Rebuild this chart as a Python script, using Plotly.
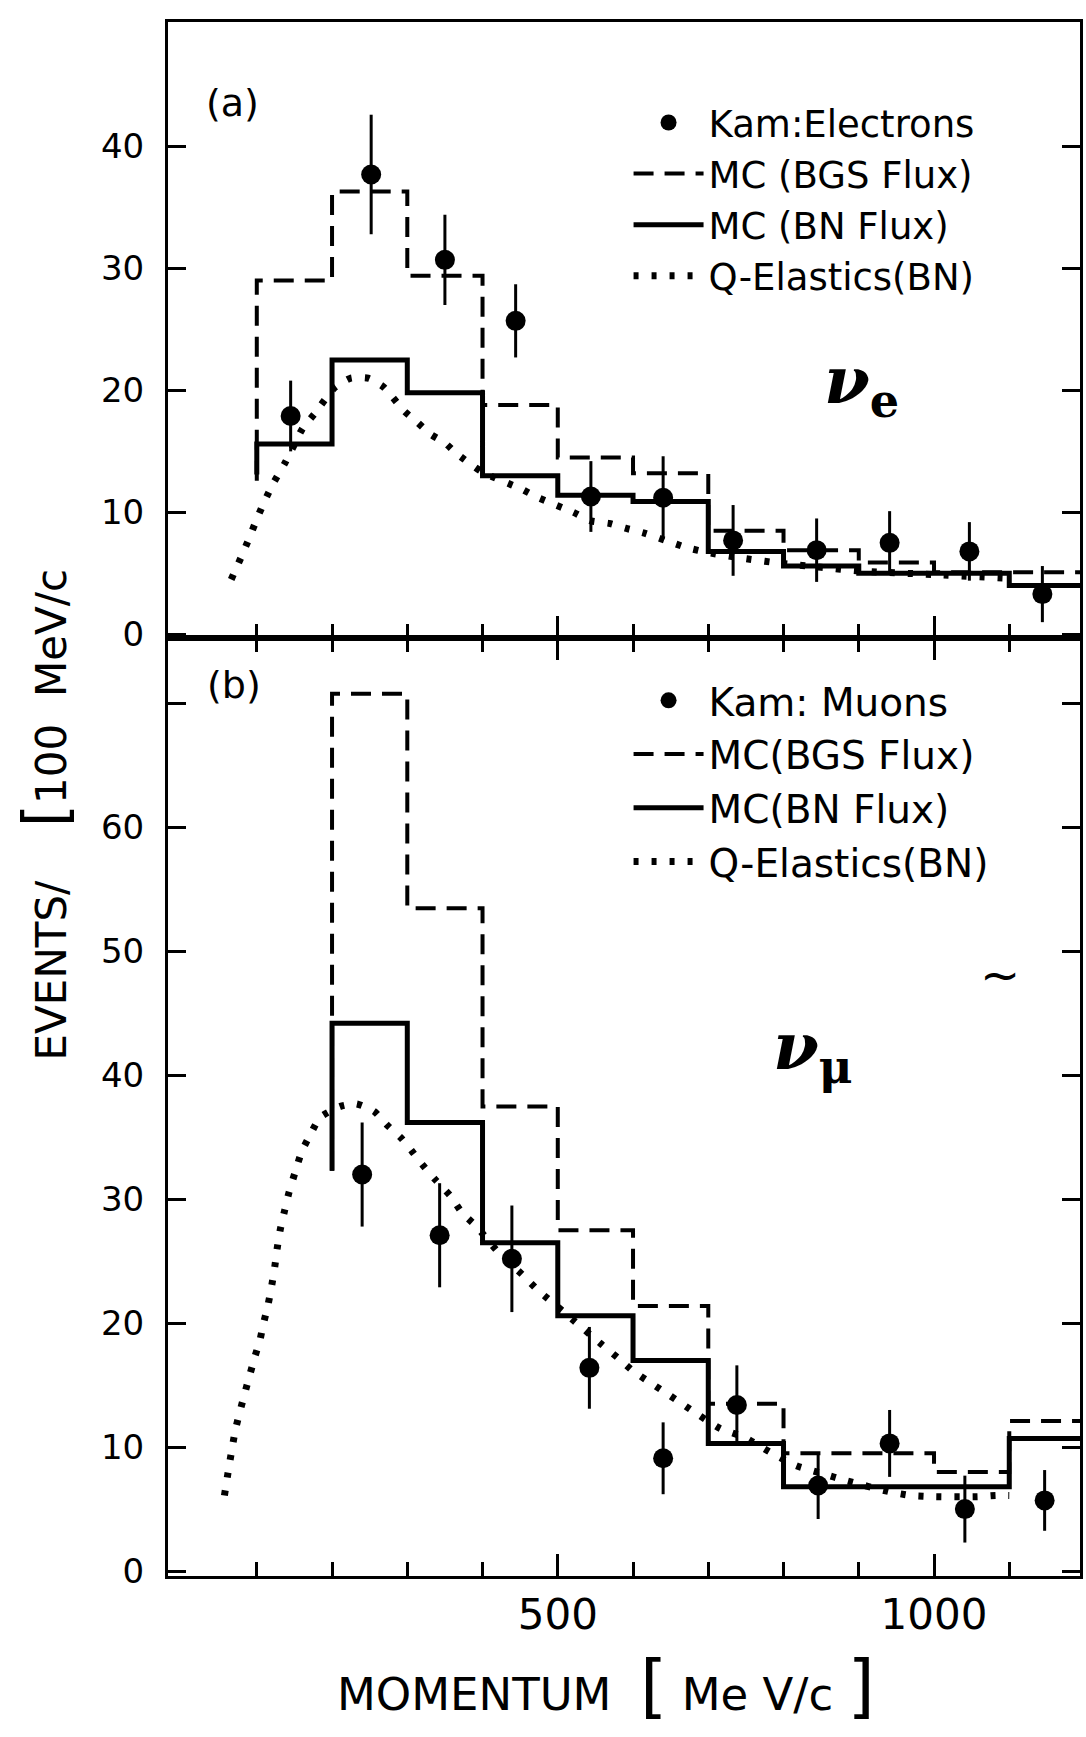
import plotly.graph_objects as go

# ---------------- data: panel (a) electrons ----------------
edges_a = [100, 200, 300, 400, 500, 600, 700, 800, 900, 1000, 1100, 1200]
bgs_a = [29.0, 36.3, 29.4, 18.8, 14.5, 13.2, 8.5, 6.9, 5.9, 5.1, 5.1]
bgs_a_start = 12.6
bn_a = [15.6, 22.5, 19.8, 13.0, 11.4, 10.9, 6.8, 5.6, 5.0, 5.0, 4.0]
bn_a_start = 13.1

kam_e_x = [145, 252, 350, 444, 544, 640, 733, 844, 941, 1047, 1144]
kam_e_y = [17.9, 37.7, 30.7, 25.7, 11.3, 11.2, 7.7, 6.9, 7.5, 6.8, 3.3]
kam_e_err = [2.9, 4.9, 3.7, 3.0, 2.9, 3.4, 2.9, 2.6, 2.6, 2.4, 2.3]

qe_a_x = [66, 79, 90, 101, 111, 122, 137, 147, 161, 177, 203, 225, 248, 268,
          281, 296, 313, 331, 350, 366, 400, 452, 474, 521, 544, 568, 590,
          615, 643, 672, 700, 750, 800, 850, 900, 1000, 1100]
qe_a_y = [4.5, 6.3, 7.9, 9.6, 11.0, 12.4, 14.0, 15.2, 16.9, 18.1, 20.2, 21.0,
          21.0, 20.3, 19.4, 18.3, 17.4, 16.4, 15.7, 14.8, 13.3, 11.9, 11.2,
          10.0, 9.3, 9.1, 8.7, 8.3, 7.7, 7.1, 6.7, 6.2, 5.8, 5.5, 5.2, 4.9, 4.6]

# ---------------- data: panel (b) muons ----------------
edges_b = [200, 300, 400, 500, 600, 700, 800, 900, 1000, 1100, 1200]
bgs_b = [70.8, 53.5, 37.5, 27.5, 21.4, 13.5, 9.5, 9.5, 8.0, 12.1]
bgs_b_start = 32.3
bn_b = [44.2, 36.2, 26.5, 20.6, 17.0, 10.3, 6.8, 6.8, 6.8, 10.7]
bn_b_start = 32.3

kam_m_x = [240, 343, 439, 542, 640, 738, 846, 941, 1041, 1147]
kam_m_y = [32.0, 27.1, 25.2, 16.4, 9.1, 13.4, 6.9, 10.3, 5.0, 5.7]
kam_m_err = [4.2, 4.2, 4.3, 3.3, 2.9, 3.2, 2.7, 2.7, 2.7, 2.45]

qe_b_x = [57, 72, 97, 104, 109, 115, 120, 124, 127, 131, 137, 143, 151, 160,
          171, 184, 211, 232, 256, 273, 291, 306, 320, 337, 357, 373, 392,
          420, 455, 473, 510, 558, 580, 601, 623, 643, 665, 687, 716, 748,
          782, 817, 850, 883, 941, 969, 1001, 1058, 1082, 1100]
qe_b_y = [6.1, 11.5, 17.2, 18.6, 20.0, 21.5, 23.1, 24.6, 26.0, 27.5, 29.1,
          30.6, 32.2, 33.9, 35.2, 36.6, 37.5, 37.7, 37.1, 36.0, 35.0, 33.9,
          32.8, 31.6, 30.3, 28.9, 27.8, 25.8, 23.8, 22.7, 20.8, 18.3, 17.2,
          16.1, 15.2, 14.4, 13.5, 12.6, 11.5, 10.8, 9.6, 8.5, 7.9, 7.3, 6.4,
          6.1, 6.0, 6.0, 6.1, 6.1]

# tick labels
x_tick_vals = [500, 1000]
x_tick_text = ["500", "1000"]
x_minor_vals = [100, 200, 300, 400, 500, 600, 700, 800, 900, 1000, 1100]
ya_tick_vals = [0, 10, 20, 30, 40]
ya_tick_text = ["0", "10", "20", "30", "40"]
yb_tick_vals = [0, 10, 20, 30, 40, 50, 60, 70]
yb_tick_text = ["0", "10", "20", "30", "40", "50", "60", " "]

legend_a = ["Kam:Electrons", "MC (BGS Flux)", "MC (BN Flux)", "Q-Elastics(BN)"]
legend_b = ["Kam: Muons", "MC(BGS Flux)", "MC(BN Flux)", "Q-Elastics(BN)"]

FONT = "DejaVu Sans"
INK = "black"


def step_xy(edges, vals, start):
    xs = [edges[0]] + list(edges)
    ys = [start] + list(vals) + [vals[-1]]
    return xs, ys


fig = go.Figure()


def add_panel(xa, ya, leg, names, edges, bgs, bgs0, bn, bn0, px, py, perr, qx, qy):
    # Q-elastics dotted curve
    fig.add_trace(go.Scatter(
        x=qx, y=qy, mode="lines", name=names[3], legend=leg,
        line=dict(color=INK, width=7, dash="5px,13px", shape="spline", smoothing=0.6),
        xaxis=xa, yaxis=ya, legendrank=4))
    # BGS dashed histogram
    bx, by = step_xy(edges, bgs, bgs0)
    fig.add_trace(go.Scatter(
        x=bx, y=by, mode="lines", name=names[1], legend=leg,
        line=dict(color=INK, width=4, dash="20px,11px", shape="hv"),
        xaxis=xa, yaxis=ya, legendrank=2))
    # BN solid histogram
    sx, sy = step_xy(edges, bn, bn0)
    fig.add_trace(go.Scatter(
        x=sx, y=sy, mode="lines", name=names[2], legend=leg,
        line=dict(color=INK, width=5, shape="hv"),
        xaxis=xa, yaxis=ya, legendrank=3))
    # data points
    fig.add_trace(go.Scatter(
        x=px, y=py, mode="markers", name=names[0], legend=leg,
        marker=dict(color=INK, size=20),
        error_y=dict(type="data", array=perr, thickness=3, width=0, color=INK),
        xaxis=xa, yaxis=ya, legendrank=1))


add_panel("x", "y", "legend", legend_a, edges_a, bgs_a, bgs_a_start,
          bn_a, bn_a_start, kam_e_x, kam_e_y, kam_e_err, qe_a_x, qe_a_y)
add_panel("x2", "y2", "legend2", legend_b, edges_b, bgs_b, bgs_b_start,
          bn_b, bn_b_start, kam_m_x, kam_m_y, kam_m_err, qe_b_x, qe_b_y)

XR = [-18, 1194]
split = 0.6036

common_x = dict(range=XR, showgrid=False, zeroline=False, showline=True,
                linecolor=INK, linewidth=3, ticks="inside", ticklen=22,
                tickwidth=3, tickcolor=INK, tickvals=x_tick_vals,
                minor=dict(ticks="inside", tickvals=x_minor_vals, ticklen=14,
                           tickwidth=3, tickcolor=INK))
common_y = dict(showgrid=False, zeroline=False, showline=True, linecolor=INK,
                linewidth=3, ticks="inside", ticklen=18, tickwidth=3,
                tickcolor=INK, mirror="ticks", ticklabelstandoff=14,
                tickfont=dict(family=FONT, size=34, color=INK))

legend_style = dict(xanchor="left", yanchor="top", bgcolor="rgba(0,0,0,0)",
                    itemwidth=70, traceorder="normal", tracegroupgap=0,
                    itemclick=False)

fig.update_layout(
    width=1086, height=1737,
    margin=dict(l=168, r=3, t=22, b=161),
    plot_bgcolor="white", paper_bgcolor="white",
    font=dict(family=FONT, color=INK),
    xaxis=dict(**common_x, anchor="y", mirror=True, showticklabels=False),
    xaxis2=dict(**common_x, anchor="y2", mirror="ticks", showticklabels=True,
                ticktext=x_tick_text,
                tickfont=dict(family=FONT, size=42, color=INK)),
    yaxis=dict(**common_y, domain=[split, 1], range=[-0.3, 50.2],
               tickvals=ya_tick_vals, ticktext=ya_tick_text),
    yaxis2=dict(**common_y, domain=[0, split], range=[-0.4, 75.3],
                tickvals=yb_tick_vals, ticktext=yb_tick_text),
    legend=dict(**legend_style, x=0.505, y=0.955,
                font=dict(family=FONT, size=37, color=INK)),
    legend2=dict(**legend_style, x=0.505, y=0.584,
                 font=dict(family=FONT, size=39, color=INK)),
    showlegend=True,
)

fig.add_annotation(text="(a)", x=68, y=43.6, xref="x", yref="y",
                   showarrow=False, font=dict(family=FONT, size=38, color=INK))
fig.add_annotation(text="(b)", x=70, y=71.5, xref="x2", yref="y2",
                   showarrow=False, font=dict(family=FONT, size=38, color=INK))
fig.add_annotation(text="<b><i>ν</i></b><sub><b>e</b></sub>", x=904, y=20.5,
                   xref="x", yref="y", showarrow=False,
                   font=dict(family="DejaVu Serif", size=66, color=INK))
fig.add_annotation(text="<b><i>ν</i></b><sub><b>μ</b></sub>", x=839, y=42.0,
                   xref="x2", yref="y2", showarrow=False,
                   font=dict(family="DejaVu Serif", size=66, color=INK))
fig.add_annotation(text="~", x=1088, y=48.1, xref="x2", yref="y2",
                   showarrow=False, font=dict(family=FONT, size=48, color=INK))

fig.add_annotation(
    text="MOMENTUM  <span style='font-size:70px'>[</span> Me V/c <span style='font-size:70px'>]</span>",
    x=0.48, y=-0.0705, xref="paper", yref="paper", xanchor="center",
    yanchor="middle", showarrow=False, font=dict(family=FONT, size=45, color=INK))
fig.add_annotation(
    text="EVENTS/    <span style='font-size:60px'>[</span>100  MeV/c",
    x=-0.135, y=0.49, xref="paper", yref="paper", xanchor="center",
    yanchor="middle", textangle=-90, showarrow=False,
    font=dict(family=FONT, size=42, color=INK))

fig.write_html("out.html")
